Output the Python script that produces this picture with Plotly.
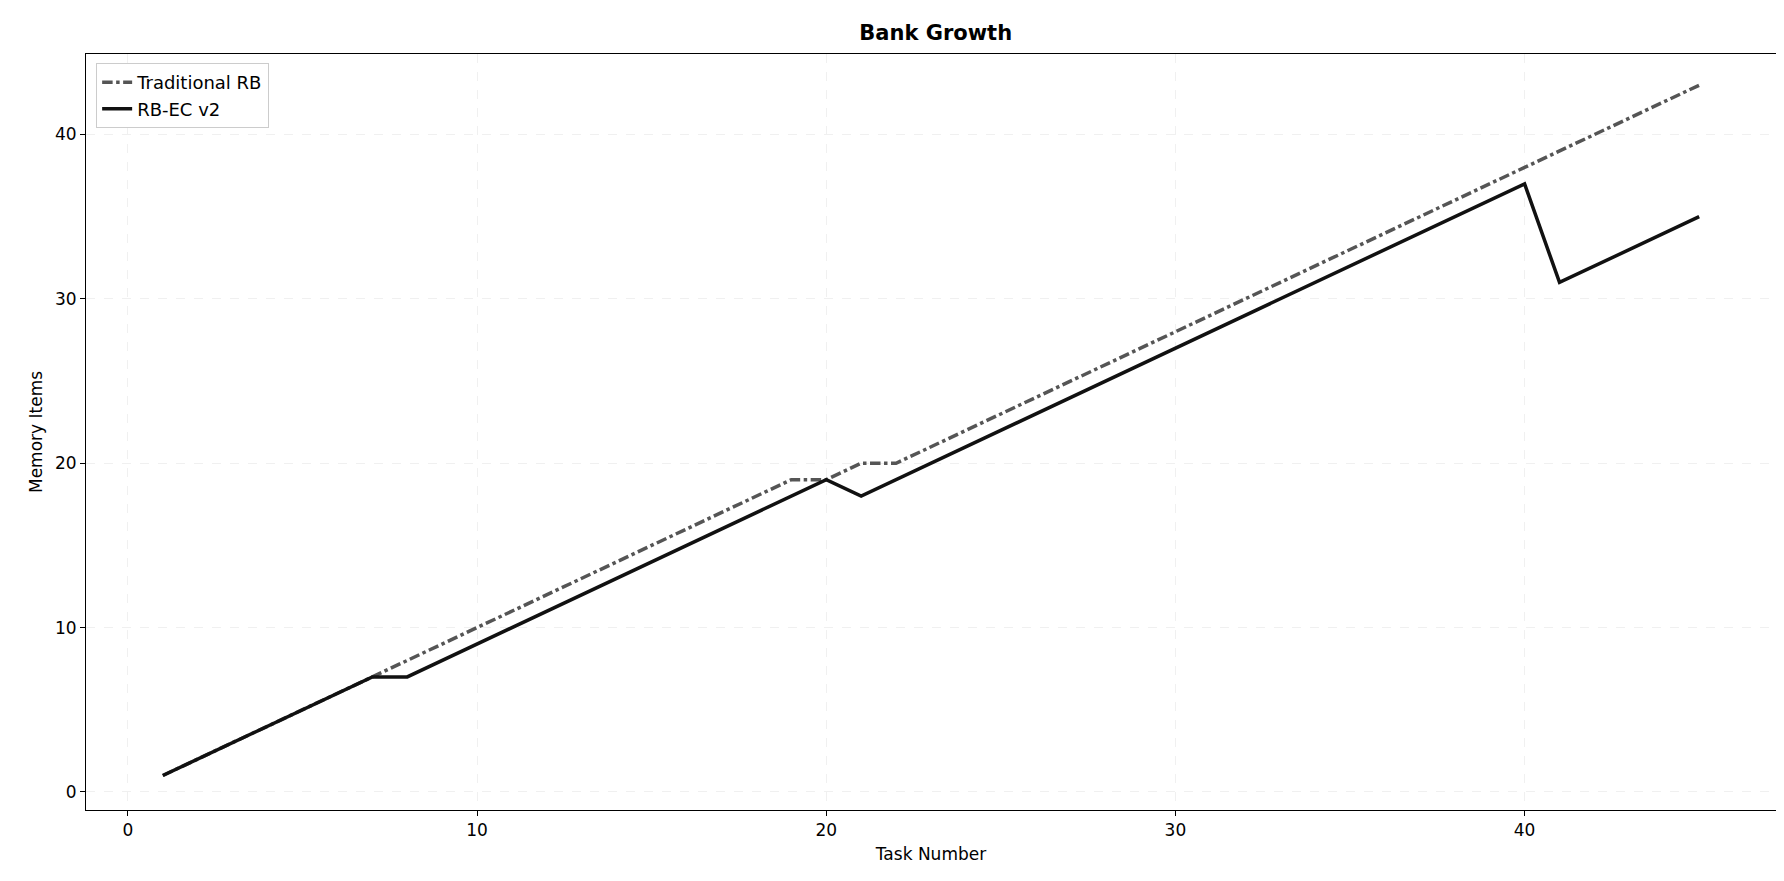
import plotly.graph_objects as go

tasks = list(range(1, 46))
traditional_rb = list(range(1, 20)) + [19, 20, 20] + list(range(21, 44))
rb_ec_v2 = list(range(1, 8)) + [7] + list(range(8, 20)) + [18] + list(range(19, 38)) + [31, 32, 33, 34, 35]

fig = go.Figure()
fig.add_trace(go.Scatter(x=tasks, y=traditional_rb, mode="lines", name="Traditional RB",
                         line=dict(color="#555555", width=3.5, dash="dashdot")))
fig.add_trace(go.Scatter(x=tasks, y=rb_ec_v2, mode="lines", name="RB-EC v2",
                         line=dict(color="#111111", width=3.5)))

axis_style = dict(showline=True, linecolor="black", linewidth=1, mirror=True,
                  ticks="outside", ticklen=5, tickcolor="black",
                  showgrid=True, gridcolor="#f0f0f0", griddash="dash", zeroline=False,
                  tickfont=dict(size=17, color="black"))

fig.update_layout(
    width=1784, height=881,
    paper_bgcolor="white", plot_bgcolor="white",
    font=dict(family="DejaVu Sans", color="black"),
    title=dict(text="<b>Bank Growth</b>", x=0.52, xanchor="center", y=0.972, yanchor="middle",
               font=dict(size=21)),
    margin=dict(l=78, r=16, t=46, b=79),
    xaxis=dict(title=dict(text="Task Number", font=dict(size=17), standoff=8),
               range=[-1.2, 47.2], tickvals=[0, 10, 20, 30, 40], **axis_style),
    yaxis=dict(title=dict(text="Memory Items", font=dict(size=17), standoff=8),
               range=[-1.1, 44.9], tickvals=[0, 10, 20, 30, 40], **axis_style),
    legend=dict(x=0.006, y=0.988, xanchor="left", yanchor="top",
                bordercolor="#cccccc", borderwidth=1, bgcolor="white",
                font=dict(size=18)),
    showlegend=True,
)

fig.write_html("out.html")
